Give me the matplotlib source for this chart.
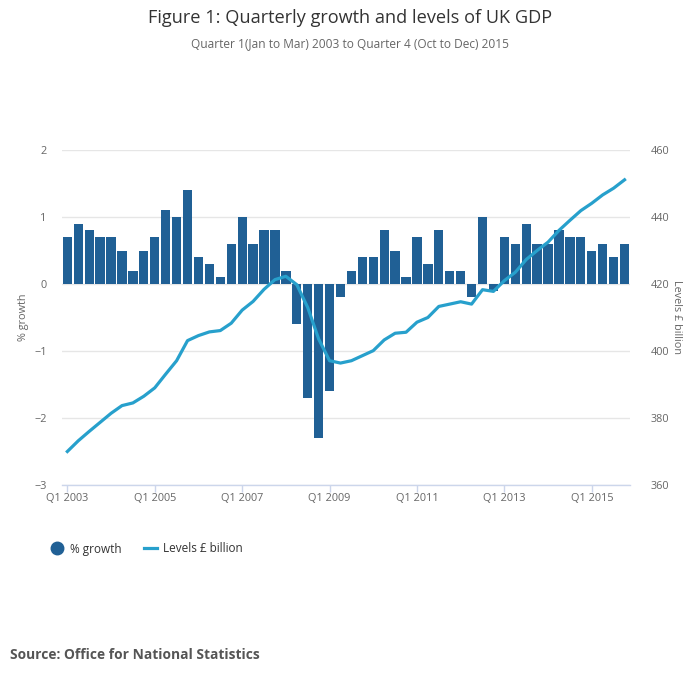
"""Figure 1: quarterly growth and levels of UK GDP, 2003 Q1 to 2015 Q4."""
import matplotlib

matplotlib.use("Agg")
import matplotlib.pyplot as plt
from matplotlib.lines import Line2D

plt.rcParams["font.family"] = ["Open Sans", "DejaVu Sans"]

years = list(range(2003, 2016))
quarters = [f"Q{q} {y}" for y in years for q in range(1, 5)]

growth = [
    0.7, 0.9, 0.8, 0.7, 0.7, 0.5, 0.2, 0.5,      # 2003-2004
    0.7, 1.1, 1.0, 1.4, 0.4, 0.3, 0.1, 0.6,      # 2005-2006
    1.0, 0.6, 0.8, 0.8, 0.2, -0.6, -1.7, -2.3,   # 2007-2008
    -1.6, -0.2, 0.2, 0.4, 0.4, 0.8, 0.5, 0.1,    # 2009-2010
    0.7, 0.3, 0.8, 0.2, 0.2, -0.2, 1.0, -0.1,    # 2011-2012
    0.7, 0.6, 0.9, 0.6, 0.6, 0.8, 0.7, 0.7,      # 2013-2014
    0.5, 0.6, 0.4, 0.6,                          # 2015
]

levels = [
    370.0, 373.2, 376.0, 378.7, 381.4, 383.7, 384.5, 386.5,
    389.0, 393.1, 397.1, 403.1, 404.6, 405.7, 406.1, 408.3,
    412.2, 414.8, 418.4, 421.3, 422.3, 419.8, 413.0, 403.6,
    397.1, 396.4, 397.1, 398.6, 400.1, 403.3, 405.3, 405.6,
    408.6, 410.0, 413.3, 414.0, 414.7, 414.0, 418.3, 417.8,
    421.0, 423.5, 427.3, 430.0, 432.5, 436.0, 439.0, 441.9,
    444.1, 446.6, 448.6, 451.1,
]

BAR = "#206095"
LINE = "#27a0cc"
GRID = "#e6e6e6"
TICK = "#666666"

fig = plt.figure(figsize=(7.0, 6.82), dpi=100)
ax = fig.add_axes([62 / 700, 1 - 485 / 682, 568 / 700, 335 / 682])
ax2 = ax.twinx()

x = list(range(len(quarters)))
ax.bar(x, growth, width=0.85, color=BAR, zorder=2)
ax2.plot(x, levels, color=LINE, linewidth=2.3, zorder=3)

ax.set_xlim(-0.49, len(quarters) - 0.5)
ax.set_ylim(-3, 2)
ax2.set_ylim(360, 460)
ax.set_yticks([-3, -2, -1, 0, 1, 2])
ax2.set_yticks([360, 380, 400, 420, 440, 460])

# label every other year's first quarter
tick_pos = [i for i, q in enumerate(quarters) if q.startswith("Q1") and int(q[-4:]) % 2 == 1]
ax.set_xticks(tick_pos)
ax.set_xticklabels([quarters[i] for i in tick_pos])

ax.grid(axis="y", color=GRID, linewidth=1, zorder=0)
ax.set_axisbelow(True)
for a in (ax, ax2):
    for side in ("top", "left", "right", "bottom"):
        a.spines[side].set_visible(False)
ax.spines["bottom"].set_visible(True)
ax.spines["bottom"].set_color("#ccd6eb")
ax.spines["bottom"].set_linewidth(1)

ax.tick_params(axis="x", length=5, width=1, color="#ccd6eb", labelsize=7.8,
               labelcolor=TICK, pad=1)
ax.tick_params(axis="y", length=0, labelsize=7.8, labelcolor=TICK, pad=11)
ax2.tick_params(axis="y", length=0, labelsize=7.8, labelcolor=TICK, pad=15)

ax.set_ylabel("% growth", fontsize=7.8, color=TICK, va="center")
ax.yaxis.set_label_coords(-0.067, 0.5)
ax2.set_ylabel("Levels £ billion", fontsize=7.8, color=TICK, rotation=270,
               va="center")
ax2.yaxis.set_label_coords(1.081, 0.5)

fig.text(0.5, 1 - 18 / 682, "Figure 1: Quarterly growth and levels of UK GDP",
         ha="center", va="center", fontsize=13.1, color="#333333")
fig.text(0.5, 1 - 44 / 682,
         "Quarter 1(Jan to Mar) 2003 to Quarter 4 (Oct to Dec) 2015",
         ha="center", va="center", fontsize=8.55, color="#666666")
fig.text(10 / 700, 1 - 655 / 682, "Source: Office for National Statistics",
         ha="left", va="center", fontsize=9.9, fontweight="bold",
         color="#555555")

handles = [
    Line2D([], [], marker="o", linestyle="none", markersize=9,
           markerfacecolor=BAR, markeredgecolor=BAR),
    Line2D([], [], color=LINE, linewidth=2.3),
]
fig.legend(handles, ["% growth", "Levels £ billion"], loc="center left",
           bbox_to_anchor=(46 / 700, 1 - 549 / 682), ncol=2, frameon=False,
           fontsize=8.5, labelcolor="#333333", handlelength=1.1,
           handletextpad=0.5, columnspacing=1.9, borderaxespad=0)

fig.savefig("out.png", dpi=100)
